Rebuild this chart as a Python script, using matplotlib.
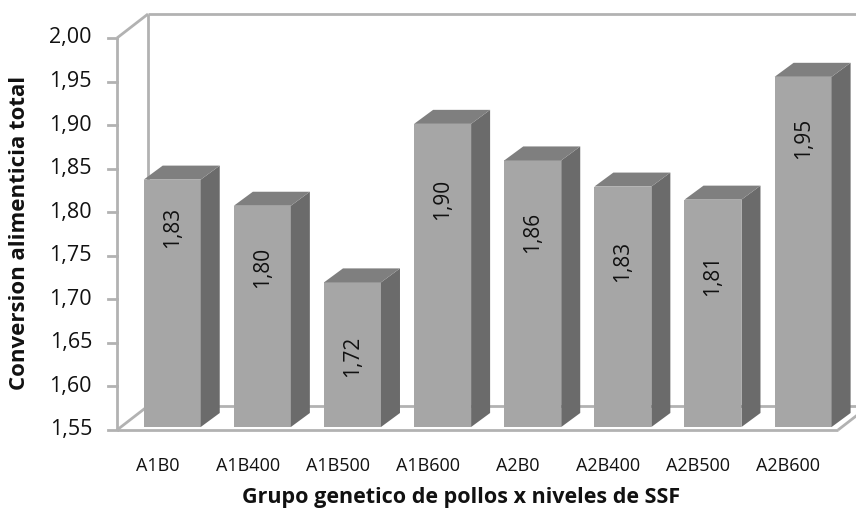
import matplotlib
matplotlib.use("Agg")
import matplotlib.pyplot as plt
from matplotlib.patches import Polygon

categories = ["A1B0", "A1B400", "A1B500", "A1B600", "A2B0", "A2B400", "A2B500", "A2B600"]
values = [1.834, 1.804, 1.716, 1.898, 1.856, 1.826, 1.811, 1.952]
y_ticks = [1.55, 1.60, 1.65, 1.70, 1.75, 1.80, 1.85, 1.90, 1.95, 2.00]
# vertical centre of each value label (data units, style/placement only)
label_pos = [1.783, 1.737, 1.634, 1.815, 1.777, 1.744, 1.728, 1.885]

plt.rcParams['font.family'] = ['Open Sans', 'DejaVu Sans']

W, H, DPI = 856, 512, 100
fig = plt.figure(figsize=(W / DPI, H / DPI), dpi=DPI)
ax = fig.add_axes([117 / W, (H - 430) / H, 721 / W, 392 / H])
ax.set_xlim(-0.5, 7.5)
ax.set_ylim(1.55, 2.00)
ax.axis("off")

px_x = 8 / 721.0          # data units per pixel (x)
px_y = 0.45 / 392.0       # data units per pixel (y)
DX, DY = 31 * px_x, 24 * px_y   # wall depth
ymin, ymax = 1.55, 2.00
x0, x1 = -0.5, 7.5
wall = "#b2b2b2"
lw = 2.0

def line(xs, ys, **kw):
    ax.plot(xs, ys, color=wall, lw=lw, clip_on=False, solid_capstyle="butt", **kw)

# back wall / side wall / floor outlines
line([x0 + DX, x1 + DX + 1], [ymax + DY, ymax + DY])
line([x0 + DX, x0 + DX], [ymin + DY, ymax + DY])
line([x0 + DX, x1 + DX + 1], [ymin + DY, ymin + DY])
line([x0, x0 + DX], [ymax, ymax + DY])
line([x0, x0 + DX], [ymin, ymin + DY])
line([x1, x1 + DX], [ymin, ymin + DY])
line([x0, x1], [ymin, ymin])
line([x0, x0], [ymin, ymax])

# y ticks
for t in y_ticks:
    ax.plot([x0 - 9 * px_x, x0], [t, t], color=wall, lw=lw, clip_on=False)
    ax.text(x0 - 25 * px_x, t, f"{t:.2f}".replace(".", ","), ha="right", va="center",
            fontsize=15.5, color="#111111")

# bars
bw = 57 * px_x
bdx, bdy = 19 * px_x, 14 * px_y
sx, sy = 3.75 * px_x, 3 * px_y   # bar front offset into depth
front_c, side_c, top_c = "#a6a6a6", "#6b6b6b", "#7f7f7f"
for i, (v, lp) in enumerate(zip(values, label_pos)):
    left = i - 0.245 + sx
    b = ymin + sy
    t = v + sy
    ax.add_patch(Polygon([[left, b], [left + bw, b], [left + bw, t], [left, t]],
                         closed=True, facecolor=front_c, edgecolor="none", clip_on=False, zorder=3))
    ax.add_patch(Polygon([[left + bw, b], [left + bw + bdx, b + bdy], [left + bw + bdx, t + bdy], [left + bw, t]],
                         closed=True, facecolor=side_c, edgecolor="none", clip_on=False, zorder=3))
    ax.add_patch(Polygon([[left, t], [left + bw, t], [left + bw + bdx, t + bdy], [left + bdx, t + bdy]],
                         closed=True, facecolor=top_c, edgecolor="none", clip_on=False, zorder=3))
    ax.text(left + bw / 2, lp, f"{v:.2f}".replace(".", ","), rotation=90, ha="center", va="center",
            fontsize=15, color="#111111", zorder=4)
    ax.text(i - 0.05, ymin - 36 * px_y, categories[i], ha="center", va="center",
            fontsize=13, color="#111111", clip_on=False)

fig.text(20 / W, 1 - 233 / H, "Conversion alimenticia total", rotation=90, ha="center", va="center",
         fontsize=16, fontweight="bold", color="#111111")
fig.text(461 / W, 1 - 497 / H, "Grupo genetico de pollos x niveles de SSF", ha="center", va="center",
         fontsize=15.5, fontweight="bold", color="#111111")

fig.savefig("out.png", dpi=DPI)
